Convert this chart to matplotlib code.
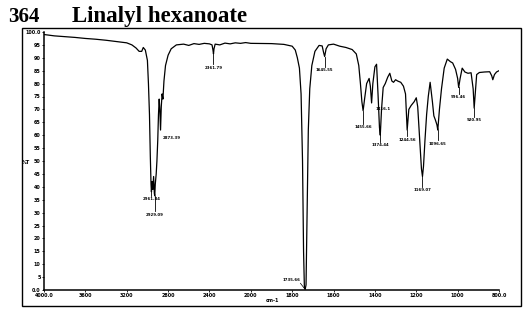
import numpy as np
import matplotlib
matplotlib.use("Agg")
import matplotlib.pyplot as plt
from matplotlib.patches import Rectangle

# spectrum: wavenumber (cm-1) and %T
wavenumber = [3995, 3900, 3800, 3700, 3600, 3500, 3400, 3300, 3200, 3150,
              3110, 3080, 3055, 3040, 3020, 3000, 2990, 2980, 2972, 2965,
              2961, 2955, 2948, 2940, 2933, 2929, 2924, 2915, 2908, 2900,
              2893, 2886, 2880, 2873, 2866, 2858, 2850, 2840, 2825, 2800,
              2770, 2720, 2650, 2600, 2550, 2500, 2450, 2400, 2375, 2366,
              2361, 2356, 2345, 2300, 2250, 2200, 2150, 2100, 2050, 2000,
              1900, 1840, 1800, 1785, 1775, 1765, 1757, 1750, 1745, 1741,
              1737, 1733, 1728, 1722, 1715, 1705, 1690, 1670, 1655, 1648,
              1643, 1636, 1625, 1600, 1570, 1540, 1510, 1490, 1478, 1470,
              1463, 1457, 1450, 1440, 1428, 1422, 1416, 1410, 1400, 1392,
              1385, 1378, 1374, 1368, 1360, 1350, 1338, 1328, 1318, 1310,
              1300, 1290, 1275, 1262, 1252, 1244, 1236, 1225, 1210, 1200,
              1193, 1183, 1175, 1170, 1165, 1158, 1150, 1142, 1133, 1122,
              1115, 1108, 1100, 1096, 1088, 1078, 1065, 1050, 1035, 1024,
              1010, 1000, 995, 988, 978, 965, 950, 935, 925, 920,
              915, 908, 895, 870, 845, 835, 830, 822, 812, 800]
transmittance = [99.0, 98.5, 98.2, 97.9, 97.5, 97.2, 96.8, 96.3, 95.8, 95.0,
                 93.8, 92.5, 92.5, 94.0, 93.0, 89.0, 80.0, 68.0, 52.0, 41.0,
                 38.0, 42.0, 39.0, 44.0, 37.5, 36.5, 41.0, 45.0, 50.0, 58.0,
                 68.0, 74.0, 70.0, 62.0, 71.0, 76.0, 74.0, 81.0, 87.0, 91.0,
                 93.5, 95.0, 95.3, 94.8, 95.5, 95.2, 95.6, 95.4, 95.0, 93.0,
                 91.5, 93.5, 95.3, 95.0, 95.7, 95.4, 95.8, 95.6, 95.9, 95.6,
                 95.5, 95.2, 94.5, 93.0, 90.0, 86.0, 76.0, 50.0, 15.0, 1.0,
                 0.3, 2.0, 30.0, 62.0, 78.0, 87.0, 92.5, 94.8, 94.6, 92.0,
                 90.5, 93.5, 95.0, 95.3, 94.5, 94.0, 93.2, 91.5, 87.0, 80.0,
                 73.0, 69.5, 74.0, 80.0, 82.0, 79.0, 72.5, 80.0, 86.5, 87.5,
                 76.0, 63.0, 60.0, 70.0, 78.5, 80.0, 82.5, 84.0, 81.0, 80.5,
                 81.5, 81.0, 80.5, 79.0, 76.0, 62.0, 70.0, 71.5, 73.0, 74.5,
                 71.0, 58.0, 47.0, 44.0, 48.0, 58.0, 68.0, 75.0, 80.5, 73.0,
                 67.5, 66.0, 64.0, 62.0, 70.0, 78.0, 86.0, 89.5, 88.5, 88.0,
                 85.5, 82.0, 78.5, 82.0, 86.0, 84.5, 84.0, 84.2, 78.0, 70.5,
                 76.0, 83.5, 84.3, 84.5, 84.6, 83.0, 81.5, 83.5, 84.5, 85.0]

# peak picks
peak_wn = [2961, 2929, 2873, 2361, 1737, 1643, 1457, 1416, 1374, 1244,
           1170, 1096, 995, 920]
peak_text = ["2961.84", "2929.09", "2873.39", "2361.79", "1735.66", "1645.55",
             "1455.66", "1416.1", "1374.44", "1244.56", "1169.07", "1096.65",
             "996.46", "920.95"]

xtick_vals = [4000, 3600, 3200, 2800, 2400, 2000, 1800, 1600, 1400, 1200, 1000, 800]
xtick_text = ["4000.0", "3600", "3200", "2800", "2400", "2000", "1800", "1600",
              "1400", "1200", "1000", "800.0"]
ytick_vals = list(range(0, 101, 5))
ytick_text = ["0.0"] + [str(v) for v in range(5, 100, 5)] + ["100.0"]


# axis is compressed 2:1 above 2000 cm-1
def fwd(x):
    x = np.asarray(x, dtype=float)
    return np.where(x > 2000, 2000 + (x - 2000) / 2, x)


def inv(x):
    x = np.asarray(x, dtype=float)
    return np.where(x > 2000, 2000 + (x - 2000) * 2, x)


fig = plt.figure(figsize=(5.25, 3.09), dpi=100)
ax = fig.add_axes([44 / 525, 1 - 290 / 309, 455 / 525, 258 / 309])
ax.set_xscale('function', functions=(fwd, inv))
ax.plot(wavenumber, transmittance, color='black', lw=0.9)
ax.set_xlim(4000, 800)
ax.set_ylim(0, 100)

ax.set_xticks(xtick_vals)
ax.set_xticklabels(xtick_text)
ax.set_yticks(ytick_vals)
ax.set_yticklabels(ytick_text)
ax.xaxis.set_minor_locator(matplotlib.ticker.NullLocator())
ax.tick_params(labelsize=3.5, length=1.5, width=0.6, pad=1)
for lab in ax.get_xticklabels() + ax.get_yticklabels():
    lab.set_fontweight('bold')
ax.spines['top'].set_visible(False)
ax.spines['right'].set_visible(False)
ax.spines['left'].set_linewidth(1.1)
ax.spines['bottom'].set_linewidth(1.1)

# peak labels: gap below the minimum, and horizontal placement
label_gap = [2.0, 6.5, 2.5, 4.5, 0, 4.5, 5.5, 1.5, 3.0, 3.0, 4.5, 4.5, 3.0, 4.0]
wn_arr = np.array(wavenumber)
for i, (w, t) in enumerate(zip(peak_wn, peak_text)):
    tv = transmittance[int(np.argmin(np.abs(wn_arr - w)))]
    ly = tv - label_gap[i]
    if t.startswith("1735"):
        ax.plot([1760, 1739], [2.6, 0.4], color='black', lw=0.5)
        ax.text(1760, 3.0, t, fontsize=2.8, fontweight='bold', ha='right', va='bottom')
    elif t.startswith("2873") or t.startswith("1416"):
        ax.text(w - 18, ly, t, fontsize=2.8, fontweight='bold', ha='left', va='top')
    else:
        ax.plot([w, w], [tv, ly + 0.5], color='black', lw=0.6)
        ax.text(w, ly, t, fontsize=2.8, fontweight='bold', ha='center', va='top')

fig.text(22 / 525, 1 - 163 / 309, "%T", fontsize=3.5, fontweight='bold', va='center')
fig.text(266 / 525, 1 - 301 / 309, "cm-1", fontsize=3.5, fontweight='bold', va='center')

# title
fig.text(8 / 525, 1 - 22 / 309, "364", fontsize=15, fontweight='bold',
         family='Liberation Serif', va='baseline')
fig.text(72 / 525, 1 - 22 / 309, "Linalyl hexanoate", fontsize=16.5, fontweight='bold',
         family='Liberation Serif', va='baseline')

# outer frame of the scan
fig.patches.append(Rectangle((22 / 525, 1 - 306 / 309), 499 / 525, 278 / 309,
                             transform=fig.transFigure, fill=False,
                             edgecolor='black', lw=1.0))

fig.savefig('out.png', dpi=100, facecolor='white')
